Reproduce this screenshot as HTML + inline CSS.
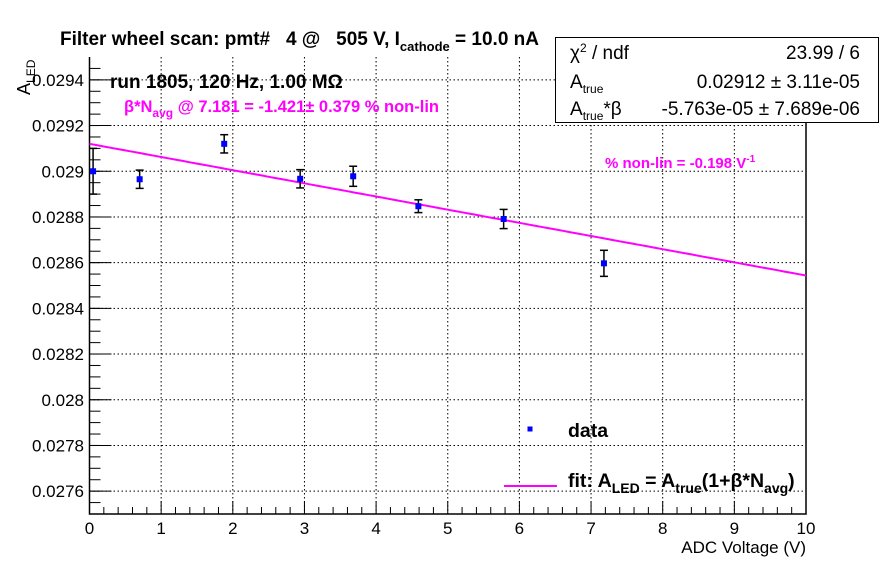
<!DOCTYPE html>
<html><head><meta charset="utf-8"><style>
body{margin:0;background:#fff;}
svg{display:block;font-family:"Liberation Sans",Arial,sans-serif;}
</style></head><body>
<svg id="chart" width="896" height="572" viewBox="0 0 896 572">
<rect width="896" height="572" fill="#fff"/>
<g id="grid"></g>
<g id="axes"></g>
<g id="marks"></g>
<text x="60" y="45" font-size="19" font-weight="bold">Filter wheel scan: pmt#&#160;&#160; 4 @&#160;&#160; 505 V, I<tspan font-size="13" dy="6">cathode</tspan><tspan dy="-6">&#160;= 10.0 nA</tspan></text>
<text x="110" y="88" font-size="19" font-weight="bold">run 1805, 120 Hz, 1.00 MΩ</text>
<text x="124" y="112" font-size="16.5" font-weight="bold" fill="#ff00ff">β*N<tspan font-size="12" dy="5">avg</tspan><tspan dy="-5">&#160;@ 7.181 = -1.421± 0.379 % non-lin</tspan></text>
<text x="605" y="168" font-size="15" font-weight="bold" fill="#ff00ff">% non-lin = -0.198 V<tspan font-size="10" dy="-6">-1</tspan></text>
<text transform="translate(30,95) rotate(-90)" font-size="18">A<tspan font-size="12" dy="5">LED</tspan></text>
<text x="806" y="553" font-size="17" text-anchor="end">ADC Voltage (V)</text>
<g>
<rect x="555.5" y="37.5" width="323" height="85" fill="#fff" stroke="#000" stroke-width="1"/>
<text x="570" y="59" font-size="19">χ<tspan font-size="12" dy="-7">2</tspan><tspan dy="7"> / ndf</tspan></text>
<text x="860" y="59" font-size="19" text-anchor="end">23.99 / 6</text>
<text x="570" y="88" font-size="19">A<tspan font-size="12" dy="5">true</tspan></text>
<text x="860" y="88" font-size="19" text-anchor="end">0.02912 ± 3.11e-05</text>
<text x="570" y="115" font-size="19">A<tspan font-size="12" dy="5">true</tspan><tspan dy="-5">*β</tspan></text>
<text x="860" y="115" font-size="19" text-anchor="end">-5.763e-05 ± 7.689e-06</text>
</g>
<g>
<rect x="527.5" y="426.5" width="5" height="5" fill="#0000ff"/>
<text x="568" y="437" font-size="19.5" font-weight="bold">data</text>
<line x1="504" y1="486" x2="557" y2="486" stroke="#ff00ff" stroke-width="2"/>
<text x="568" y="487" font-size="19.5" font-weight="bold">fit: A<tspan font-size="14" dy="6">LED</tspan><tspan dy="-6">&#160;= A</tspan><tspan font-size="14" dy="6">true</tspan><tspan dy="-6">(1+β*N</tspan><tspan font-size="14" dy="6">avg</tspan><tspan dy="-6">)</tspan></text>
</g>
</svg>
<script>
const xVals=[0.05,0.70,1.88,2.94,3.68,4.59,5.78,7.18];
const yVals=[0.02900,0.028965,0.02912,0.028967,0.028978,0.028847,0.028791,0.028597];
const yErrs=[0.0001,0.00004,0.00004,0.00004,0.000044,0.000028,0.000042,0.000057];
const fitA=0.02912;
const fitAB=-5.763e-05;
const xTicks=[0,1,2,3,4,5,6,7,8,9,10];
const yTicks=[0.0276,0.0278,0.028,0.0282,0.0284,0.0286,0.0288,0.029,0.0292,0.0294];
const yTickLabels=["0.0276","0.0278","0.028","0.0282","0.0284","0.0286","0.0288","0.029","0.0292","0.0294"];
const X0=89.5,X1=806,Y0=514,Y1=57,xMin=0,xMax=10,yMin=0.0275,yMax=0.0295;
const sx=v=>X0+(v-xMin)/(xMax-xMin)*(X1-X0);
const sy=v=>Y0-(v-yMin)/(yMax-yMin)*(Y0-Y1);
const NS="http://www.w3.org/2000/svg";
function mk(t,a,p){const e=document.createElementNS(NS,t);for(const k in a)e.setAttribute(k,a[k]);p.appendChild(e);return e;}
const grid=document.getElementById('grid'),axes=document.getElementById('axes'),marks=document.getElementById('marks');
xTicks.forEach((t,i)=>{const x=sx(t);
 if(i>0&&i<xTicks.length-1){const g=mk('line',{x1:x,x2:x,y1:Y1,y2:Y0,stroke:'#000','stroke-dasharray':'1.5,2.5','stroke-width':1},grid);
 
 }
 const tk=mk('line',{x1:x,x2:x,y1:Y0,y2:Y0-13,stroke:'#000'},axes);
 
 
 const l=mk('text',{x:x,y:534,'font-size':17,'text-anchor':'middle'},axes);l.textContent=String(t);
 
 
 if(i<xTicks.length-1){for(let m=1;m<5;m++){const mx=sx(t+m*0.2);mk('line',{x1:mx,x2:mx,y1:Y0,y2:Y0-7,stroke:'#000'},axes);}}
});
yTicks.forEach((t,i)=>{const y=sy(t);
 const g=mk('line',{x1:X0,x2:X1,y1:y,y2:y,stroke:'#000','stroke-dasharray':'1.5,2.5','stroke-width':1},grid);
 
 
 const tk=mk('line',{x1:X0,x2:X0+22,y1:y,y2:y,stroke:'#000'},axes);
 
 
 const l=mk('text',{x:84,y:y+6,'font-size':17,'text-anchor':'end'},axes);l.textContent=yTickLabels[i];
 
 
});
for(let v=yMin;v<yMax-1e-9;v+=0.00005){const y=sy(v);mk('line',{x1:X0,x2:X0+11,y1:y,y2:y,stroke:'#000'},axes);}
mk('path',{d:`M${X0},${Y1}V${Y0}H${X1}V${Y1}`,fill:'none',stroke:'#000','stroke-width':1.5},axes);
let d='';for(let i=0;i<=100;i++){const xv=xMin+i*(xMax-xMin)/100;d+=(i?'L':'M')+sx(xv).toFixed(1)+','+sy(fitA+fitAB*xv).toFixed(1);}
const fl=mk('path',{d:d,fill:'none',stroke:'#ff00ff','stroke-width':2},marks);


xVals.forEach((xv,i)=>{const x=sx(xv),y=sy(yVals[i]),yt=sy(yVals[i]+yErrs[i]),yb=sy(yVals[i]-yErrs[i]);
 const g=mk('g',{},marks);
 
 
 mk('line',{x1:x,x2:x,y1:yt,y2:yb,stroke:'#000','stroke-width':1.5},g);
 mk('line',{x1:x-4,x2:x+4,y1:yt,y2:yt,stroke:'#000','stroke-width':1.5},g);
 mk('line',{x1:x-4,x2:x+4,y1:yb,y2:yb,stroke:'#000','stroke-width':1.5},g);
 mk('rect',{x:x-3,y:y-3,width:6,height:6,fill:'#0000ff'},g);
});
</script>
</body></html>
